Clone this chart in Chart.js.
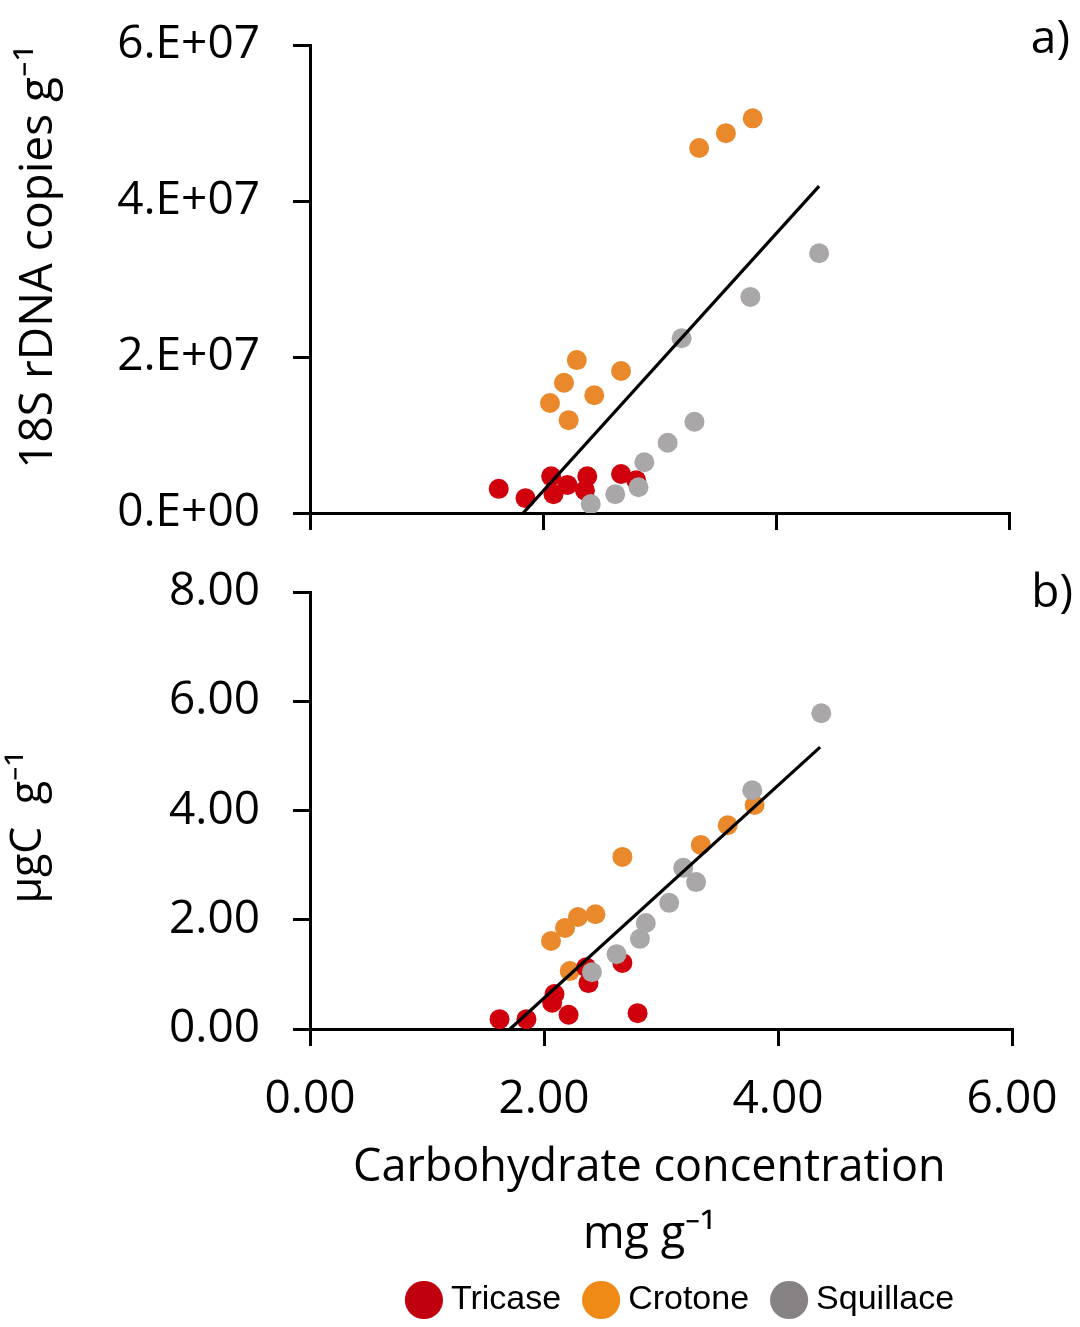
<!DOCTYPE html>
<html>
<head>
<meta charset="utf-8">
<script src="https://cdn.jsdelivr.net/npm/chart.js@4.4.1/dist/chart.umd.min.js"></script>
<style>
  html, body { margin: 0; padding: 0; background: #ffffff; }
  body { width: 1080px; height: 1327px; position: relative; overflow: hidden; }
  canvas { position: absolute; left: 0; }
  #topChart { top: 0; }
  #bottomChart { top: 540px; }
  .panel { position: absolute; font-family: 'Open Sans', sans-serif; font-size: 46px; line-height: 1; color: #000; }
</style>
</head>
<body>
<canvas id="topChart" width="1080" height="540"></canvas>
<canvas id="bottomChart" width="1080" height="787"></canvas>
<div class="panel" style="top:12px; right:10px;">a)</div>
<div class="panel" style="top:566px; right:7px;">b)</div>
<script>
// ---------- data ----------
const sites = ['Tricase', 'Crotone', 'Squillace'];

// carbohydrate concentration (mg g-1), same samples in both panels
const tricaseCarb   = [1.62, 1.85, 2.07, 2.09, 2.21, 2.36, 2.38, 2.67, 2.80];
const crotoneCarb   = [2.06, 2.18, 2.22, 2.29, 2.44, 2.67, 3.34, 3.57, 3.80];
const squillaceCarb = [2.41, 2.62, 2.82, 2.87, 3.07, 3.19, 3.30, 3.78, 4.37];

// panel a) 18S rDNA copies g-1
const tricase18S   = [3.1e6, 1.9e6, 4.7e6, 2.4e6, 3.6e6, 2.9e6, 4.7e6, 5.0e6, 4.2e6];
const crotone18S   = [1.41e7, 1.67e7, 1.19e7, 1.96e7, 1.51e7, 1.82e7, 4.68e7, 4.87e7, 5.06e7];
const squillace18S = [1.15e6, 2.4e6, 3.3e6, 6.5e6, 9.0e6, 2.24e7, 1.17e7, 2.77e7, 3.33e7];

// panel b) µgC g-1
const tricaseC   = [0.18, 0.18, 0.48, 0.64, 0.26, 1.13, 0.84, 1.21, 0.29];
const crotoneC   = [1.61, 1.85, 1.06, 2.05, 2.10, 3.15, 3.37, 3.73, 4.10];
const squillaceC = [1.04, 1.37, 1.65, 1.94, 2.31, 2.95, 2.69, 4.37, 5.78];

// regression lines (end points)
const trendTopX = [1.83, 4.37];
const trendTopY = [0, 4.19e7];
const trendBottomX = [1.71, 4.36];
const trendBottomY = [0, 5.16];

// tick labels
const topYTickLabels = ['0.E+00', '2.E+07', '4.E+07', '6.E+07'];
const bottomYTickLabels = ['0.00', '2.00', '4.00', '6.00', '8.00'];
const xTickLabels = ['0.00', '2.00', '4.00', '6.00'];

// ---------- styles ----------
const pointColors  = ['#D0000D', '#E9892B', '#A9A7A8'];
const legendColors = ['#C0000E', '#EF8A17', '#878384'];

Chart.defaults.font.family = "'Open Sans', sans-serif";
Chart.defaults.color = '#000';

const pts = (xs, ys) => xs.map((x, i) => ({ x: x, y: ys[i] }));

function siteDatasets(ys) {
  const xs = [tricaseCarb, crotoneCarb, squillaceCarb];
  const orders = [2, 3, 1];
  return sites.map((s, i) => ({
    label: s,
    data: pts(xs[i], ys[i]),
    backgroundColor: pointColors[i],
    borderColor: pointColors[i],
    borderWidth: 0,
    pointRadius: 10,
    pointHoverRadius: 10,
    order: orders[i]
  }));
}

function trendDataset(xs, ys) {
  return {
    label: 'trend',
    data: pts(xs, ys),
    showLine: true,
    borderColor: '#000',
    borderWidth: 3.2,
    pointRadius: 0,
    order: 0
  };
}

function axisCommon() {
  return {
    border: { display: true, color: '#000', width: 3 },
    grid: { drawOnChartArea: false, drawTicks: true, tickLength: 17, color: '#000', lineWidth: 3 }
  };
}

function fixY(s) { s.width = 310; s.paddingTop = 0; s.paddingBottom = 0; }
function fixX(h) { return (s) => { s.height = h; s.paddingLeft = 0; s.paddingRight = 0; }; }

// ---------- panel a ----------
new Chart(document.getElementById('topChart'), {
  type: 'scatter',
  data: { datasets: [...siteDatasets([tricase18S, crotone18S, squillace18S]), trendDataset(trendTopX, trendTopY)] },
  options: {
    responsive: false, animation: false, devicePixelRatio: 1,
    layout: { padding: { top: 45, right: 71, bottom: 0, left: 0 } },
    plugins: { legend: { display: false }, tooltip: { enabled: false } },
    scales: {
      x: Object.assign(axisCommon(), {
        type: 'linear', min: 0, max: 6,
        ticks: { display: false, stepSize: 2 },
        afterFit: fixX(27)
      }),
      y: Object.assign(axisCommon(), {
        type: 'linear', min: 0, max: 6e7,
        ticks: { stepSize: 2e7, padding: 33, font: { size: 46 }, color: '#000',
                 callback: (v, i) => topYTickLabels[i] },
        title: { display: true, text: '18S rDNA copies g\u207B\u00B9', align: 'end',
                 font: { size: 46 }, color: '#000', padding: { top: 11, bottom: 0 } },
        afterFit: fixY
      })
    }
  }
});

// ---------- panel b ----------
const legendShift = {
  id: 'legendShift',
  afterLayout(chart) {
    const lg = chart.legend;
    if (lg) { lg.left += 178; lg.right += 178; lg.top -= 20; }
  }
};

new Chart(document.getElementById('bottomChart'), {
  type: 'scatter',
  data: { datasets: [...siteDatasets([tricaseC, crotoneC, squillaceC]), trendDataset(trendBottomX, trendBottomY)] },
  options: {
    responsive: false, animation: false, devicePixelRatio: 1,
    layout: { padding: { top: 52, right: 68, bottom: 0, left: 0 } },
    plugins: {
      tooltip: { enabled: false },
      legend: {
        display: true, position: 'bottom', maxHeight: 54,
        labels: {
          usePointStyle: true, pointStyle: 'circle', boxHeight: 27, boxWidth: 20,
          padding: 30, color: '#000',
          font: { family: "'Liberation Sans', Arial, sans-serif", size: 34 },
          generateLabels: (chart) => sites.map((s, i) => ({
            text: s, fillStyle: legendColors[i], strokeStyle: legendColors[i],
            lineWidth: 0, pointStyle: 'circle', hidden: false, datasetIndex: i, fontColor: '#000'
          }))
        }
      }
    },
    scales: {
      x: Object.assign(axisCommon(), {
        type: 'linear', min: 0, max: 6,
        ticks: { stepSize: 2, padding: 26, font: { size: 46 }, color: '#000', maxRotation: 0,
                 callback: (v, i) => xTickLabels[i] },
        title: { display: true, text: ['Carbohydrate concentration  ', 'mg g\u207B\u00B9  '],
                 font: { size: 45, lineHeight: 1.49 }, color: '#000', padding: { top: 0, bottom: 4 } },
        afterFit: fixX(244)
      }),
      y: Object.assign(axisCommon(), {
        type: 'linear', min: 0, max: 8,
        ticks: { stepSize: 2, padding: 33, font: { size: 46 }, color: '#000',
                 callback: (v, i) => bottomYTickLabels[i] },
        title: { display: true, text: '\u00B5gC  g\u207B\u00B9   ',
                 font: { size: 43 }, color: '#000', padding: { top: 3, bottom: 0 } },
        afterFit: fixY
      })
    }
  },
  plugins: [legendShift]
});
</script>
</body>
</html>
